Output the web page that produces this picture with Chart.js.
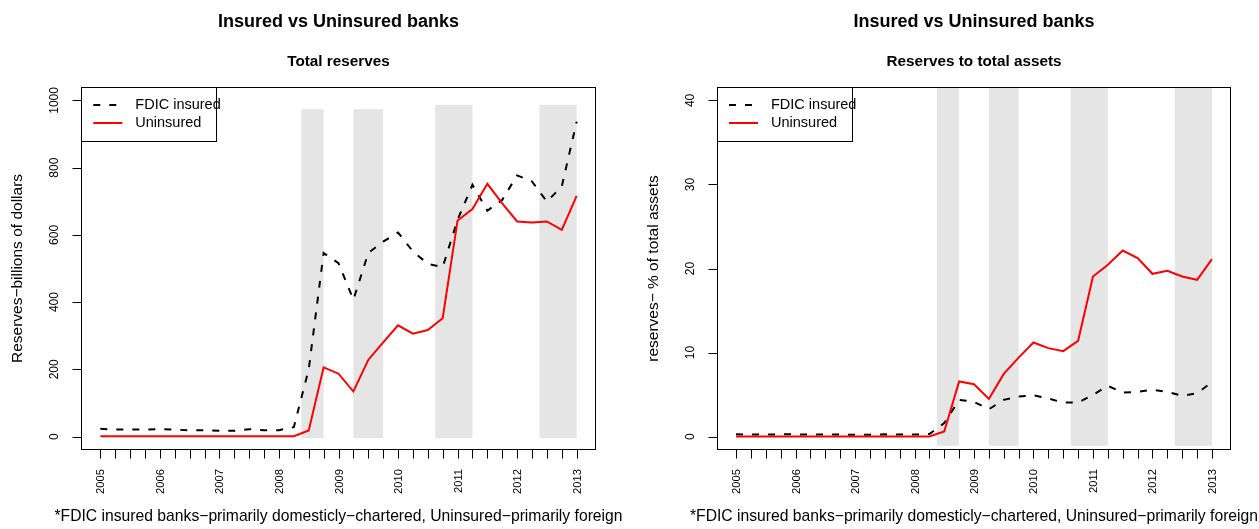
<!DOCTYPE html>
<html>
<head>
<meta charset="utf-8">
<title>Insured vs Uninsured banks</title>
<script src="https://cdn.jsdelivr.net/npm/chart.js@4.4.1/dist/chart.umd.min.js"></script>
<style>
  html, body { margin: 0; padding: 0; background: #ffffff; }
  #wrap { position: relative; width: 1259px; height: 529px; overflow: hidden; background: #ffffff; }
  canvas { position: absolute; top: 0; }
</style>
</head>
<body>
<div id="wrap">
  <canvas id="reserves" width="630" height="529" style="left:0px"></canvas>
  <canvas id="ratio" width="629" height="529" style="left:630px"></canvas>
</div>
<script>
// Quarterly observations, 2005 Q1 .. 2013 Q1
const quarters = [
  '2005 Q1','2005 Q2','2005 Q3','2005 Q4',
  '2006 Q1','2006 Q2','2006 Q3','2006 Q4',
  '2007 Q1','2007 Q2','2007 Q3','2007 Q4',
  '2008 Q1','2008 Q2','2008 Q3','2008 Q4',
  '2009 Q1','2009 Q2','2009 Q3','2009 Q4',
  '2010 Q1','2010 Q2','2010 Q3','2010 Q4',
  '2011 Q1','2011 Q2','2011 Q3','2011 Q4',
  '2012 Q1','2012 Q2','2012 Q3','2012 Q4',
  '2013 Q1'
];
const yearLabels = ['2005','2006','2007','2008','2009','2010','2011','2012','2013'];

// Total reserves, billions of dollars
const insuredReserves = [23,21,21,21,22,21,18,19,17,17,22,19,19,28,200,546,516,407,546,580,607,551,514,504,645,749,672,704,777,759,699,744,937];
const uninsuredReserves = [1,1,1,1,1,1,1,1,1,1,1,1,1,1,18,206,187,134,228,280,331,306,317,352,643,677,752,694,640,637,640,615,716];

// Reserves as a percentage of total assets
const insuredRatio = [0.26,0.25,0.25,0.26,0.26,0.25,0.23,0.24,0.22,0.22,0.26,0.24,0.24,0.3,1.6,4.37,4.13,3.25,4.37,4.76,4.92,4.52,4.05,4.05,4.96,6.03,5.24,5.32,5.56,5.32,4.84,5.16,6.47];
const uninsuredRatio = [0.02,0.02,0.02,0.02,0.02,0.02,0.02,0.02,0.02,0.02,0.02,0.02,0.02,0.02,0.6,6.55,6.23,4.48,7.46,9.4,11.19,10.52,10.16,11.39,19.05,20.44,22.14,21.23,19.37,19.72,19.05,18.65,21.11];

// Shaded periods, in quarter index units
const bandStart = [13.5, 17, 22.5, 29.5];
const bandEnd   = [15, 19, 25, 32];
const reservesBandTop = [974, 974, 987, 987];
const reservesBandBottom = -5;
const ratioBandTop = [42, 42, 42, 42];
const ratioBandBottom = -1.1;

const reservesTicks = [0, 200, 400, 600, 800, 1000];
const ratioTicks = [0, 10, 20, 30, 40];

const FONT = '"Liberation Sans", Arial, Helvetica, sans-serif';
const MAIN_TITLE = 'Insured vs Uninsured banks';
const FOOTNOTE = '*FDIC insured banks\u2212primarily domesticly\u2212chartered, Uninsured\u2212primarily foreign';
const DASH = [7, 9];

function text(ctx, str, x, y, font, align, baseline, rot) {
  ctx.save();
  ctx.translate(x, y);
  if (rot) ctx.rotate(rot);
  ctx.font = font;
  ctx.textAlign = align;
  ctx.textBaseline = baseline;
  ctx.fillStyle = '#000';
  ctx.fillText(str, 0, 0);
  ctx.restore();
}

// Base-graphics style frame: shaded bands, box, ticks, labels, legend
const rFrame = {
  id: 'rFrame',
  beforeDatasetsDraw(chart, args, o) {
    const { ctx, chartArea: a } = chart;
    const x = chart.scales.x, y = chart.scales.y;
    ctx.save();
    ctx.beginPath();
    ctx.rect(a.left, a.top, a.right - a.left, a.bottom - a.top);
    ctx.clip();
    ctx.fillStyle = '#e5e5e5';
    bandStart.forEach((s, i) => {
      const x0 = x.getPixelForValue(s), x1 = x.getPixelForValue(bandEnd[i]);
      const y0 = y.getPixelForValue(o.bandTop[i]), y1 = y.getPixelForValue(o.bandBottom);
      ctx.fillRect(x0, y0, x1 - x0, y1 - y0);
    });
    ctx.restore();
  },
  afterDatasetsDraw(chart, args, o) {
    const { ctx, chartArea: a } = chart;
    const x = chart.scales.x, y = chart.scales.y;
    const L = Math.round(a.left) + 0.5, R = Math.round(a.right) - 0.5;
    const T = Math.round(a.top) + 0.5, B = Math.round(a.bottom) - 0.5;
    ctx.save();
    ctx.strokeStyle = '#000';
    ctx.lineWidth = 1;
    ctx.setLineDash([]);
    ctx.strokeRect(L, T, R - L, B - T);

    // x axis: a tick every quarter, a label every year
    ctx.beginPath();
    quarters.forEach((q, i) => {
      const px = Math.round(x.getPixelForValue(i)) + 0.5;
      ctx.moveTo(px, B);
      ctx.lineTo(px, B + 9);
    });
    ctx.stroke();
    yearLabels.forEach((lab, k) => {
      const px = x.getPixelForValue(k * 4);
      text(ctx, lab, px + 4, a.bottom + 19, '11.2px ' + FONT, 'right', 'alphabetic', -Math.PI / 2);
    });

    // y axis
    ctx.beginPath();
    o.yTicks.forEach(v => {
      const py = Math.round(y.getPixelForValue(v)) + 0.5;
      ctx.moveTo(L, py);
      ctx.lineTo(L - 9, py);
    });
    ctx.stroke();
    o.yTicks.forEach(v => {
      text(ctx, String(v), a.left - 23, y.getPixelForValue(v), '12px ' + FONT, 'center', 'alphabetic', -Math.PI / 2);
    });
    const cy = (a.top + a.bottom) / 2;
    const cx = (a.left + a.right) / 2;
    text(ctx, o.yTitle, a.left - 59, cy, '15.5px ' + FONT, 'center', 'alphabetic', -Math.PI / 2);

    // titles and footnote
    text(ctx, MAIN_TITLE, cx, 27, 'bold 18px ' + FONT, 'center', 'alphabetic');
    text(ctx, o.subtitle, cx, 66, 'bold 15.3px ' + FONT, 'center', 'alphabetic');
    text(ctx, FOOTNOTE, cx, 521, '15.7px ' + FONT, 'center', 'alphabetic');

    // legend in the top-left corner of the plot
    const lx = Math.round(a.left) + 0.5, ly = Math.round(a.top) + 0.5;
    ctx.fillStyle = '#fff';
    ctx.fillRect(lx, ly, 135, 54);
    ctx.strokeRect(lx, ly, 135, 54);
    chart.data.datasets.forEach((ds, i) => {
      const ry = a.top + 18 + i * 18;
      ctx.beginPath();
      ctx.strokeStyle = ds.borderColor;
      ctx.lineWidth = ds.borderWidth;
      ctx.setLineDash(ds.borderDash || []);
      ctx.moveTo(a.left + 12, ry);
      ctx.lineTo(a.left + 41, ry);
      ctx.stroke();
      ctx.setLineDash([]);
      text(ctx, ds.label, a.left + 54, ry, '14.5px ' + FONT, 'left', 'middle');
    });
    ctx.restore();
  }
};

function makePanel(cfg) {
  const canvas = document.getElementById(cfg.id);
  const W = canvas.width, H = canvas.height;
  const points = arr => arr.map((v, i) => ({ x: i, y: v }));
  return new Chart(canvas, {
    type: 'line',
    data: {
      labels: quarters,
      datasets: [
        { label: 'FDIC insured', data: points(cfg.insured), borderColor: '#000000', borderWidth: 2,
          borderDash: DASH, pointRadius: 0, fill: false, tension: 0, order: 1 },
        { label: 'Uninsured', data: points(cfg.uninsured), borderColor: '#ff0000', borderWidth: 2,
          pointRadius: 0, fill: false, tension: 0, order: 0 }
      ]
    },
    options: {
      responsive: false,
      animation: false,
      events: [],
      layout: { padding: { left: 0, top: cfg.area.top, right: W - cfg.area.right, bottom: 0 } },
      scales: {
        x: {
          type: 'linear', min: -1.28, max: 33.28,
          grid: { display: false }, border: { display: false }, ticks: { display: false },
          afterBuildTicks: s => { s.ticks = quarters.map((q, i) => ({ value: i })); },
          afterFit: s => { s.height = H - cfg.area.bottom; }
        },
        y: {
          type: 'linear', min: cfg.yMin, max: cfg.yMax,
          grid: { display: false }, border: { display: false }, ticks: { display: false },
          afterBuildTicks: s => { s.ticks = cfg.yTicks.map(v => ({ value: v })); },
          afterFit: s => { s.width = cfg.area.left; }
        }
      },
      plugins: {
        legend: { display: false },
        tooltip: { enabled: false },
        rFrame: {
          yTicks: cfg.yTicks, yTitle: cfg.yTitle, subtitle: cfg.subtitle,
          bandTop: cfg.bandTop, bandBottom: cfg.bandBottom
        }
      }
    },
    plugins: [rFrame]
  });
}

makePanel({
  id: 'reserves',
  area: { left: 81.3, right: 595.7, top: 87, bottom: 450 },
  yMin: -40, yMax: 1040, yTicks: reservesTicks,
  yTitle: 'Reserves\u2212billions of dollars', subtitle: 'Total reserves',
  insured: insuredReserves, uninsured: uninsuredReserves,
  bandTop: reservesBandTop, bandBottom: reservesBandBottom
});

makePanel({
  id: 'ratio',
  area: { left: 87, right: 601, top: 87, bottom: 450 },
  yMin: -1.6, yMax: 41.6, yTicks: ratioTicks,
  yTitle: 'reserves\u2212 % of total assets', subtitle: 'Reserves to total assets',
  insured: insuredRatio, uninsured: uninsuredRatio,
  bandTop: ratioBandTop, bandBottom: ratioBandBottom
});
</script>
</body>
</html>
